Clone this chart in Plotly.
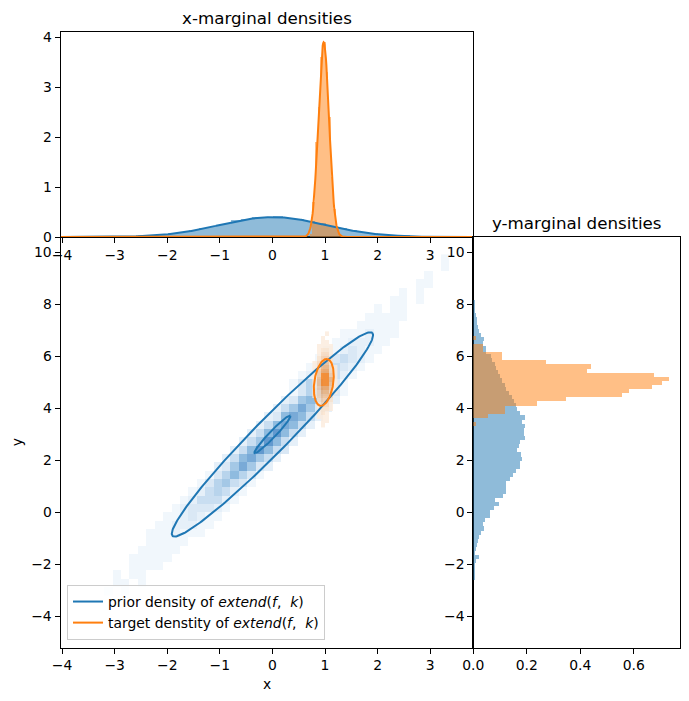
import numpy as np
import plotly.graph_objects as go

W, H = 689, 701

# ---------------- data ----------------
# x-marginal histogram of prior samples (density), bins of 0.2 starting at -4.0
prior_x_hist_start = -4.0
prior_x_hist_bin = 0.2
prior_x_hist = [0.0002, 0.0004, 0.0009, 0.0017, 0.0033, 0.006, 0.0104, 0.0175, 0.028, 0.045,
                0.066, 0.093, 0.13, 0.172, 0.215, 0.262, 0.325, 0.352, 0.39, 0.39,
                0.415, 0.383, 0.35, 0.31, 0.27, 0.22, 0.17, 0.13, 0.094, 0.066,
                0.044, 0.028, 0.018, 0.010, 0.006, 0.0033, 0.0017, 0.0009, 0.0004]

# x-marginal histogram of target samples, bins of 0.05 starting at 0.70
target_x_hist_start = 0.70
target_x_hist_bin = 0.05
target_x_hist = [0.05, 0.7, 1.9, 2.6, 3.6, 3.9, 3.3, 2.4, 1.2, 0.55, 0.15, 0.03]

# y-marginal histogram of prior samples, bins of 0.158 starting at -2.59
prior_y_hist_start = -2.59
prior_y_hist_bin = 0.158
prior_y_hist = [0.004, 0.005, 0.007, 0.009, 0.01, 0.021, 0.006, 0.01, 0.015, 0.019,
                0.022, 0.029, 0.04, 0.037, 0.043, 0.062, 0.062, 0.077, 0.096, 0.084,
                0.112, 0.124, 0.124, 0.124, 0.137, 0.149, 0.16, 0.174, 0.174, 0.184,
                0.18, 0.165, 0.171, 0.174, 0.195, 0.189, 0.189, 0.195, 0.184, 0.195,
                0.174, 0.165,
                0.16, 0.155, 0.145, 0.135, 0.125, 0.118, 0.11, 0.10, 0.095, 0.085,
                0.083, 0.07, 0.066, 0.05, 0.05, 0.037, 0.04, 0.03, 0.024, 0.02,
                0.016, 0.014, 0.012, 0.008, 0.005, 0.004]

# y-marginal histogram of target samples, bins of 0.158 starting at 3.32
target_y_hist_start = 3.32
target_y_hist_bin = 0.158
target_y_hist = [0.012, 0.0, 0.056, 0.118, 0.118, 0.24, 0.348, 0.559, 0.584, 0.668,
                 0.708, 0.733, 0.676, 0.426, 0.44, 0.274, 0.109, 0.109, 0.037, 0.037,
                 0.0, 0.01]

# normal densities drawn over the x-marginal (mean, sd)
prior_x_mean, prior_x_sd = 0.0, 1.0
target_x_mean, target_x_sd = 0.975, 0.1023

# ellipses: centre and two half-axis vectors (data units)
prior_center = (0.0, 3.0)
prior_outer_axes = ((1.9, 3.9), (0.23, -0.46))
prior_inner_axes = ((0.34, 0.72), (0.045, -0.085))
target_center = (0.977, 5.0)
target_axes = ((0.063, 0.9), (0.179, -0.05))

# 2-D histogram of prior samples: intensity levels 1..9 (0 = empty)
# grid: columns of 0.16 starting at x=-4.0 ; rows of 0.32 starting at y=-3.2
prior_grid_x0, prior_grid_dx, prior_grid_nx = -4.0, 0.16, 50
prior_grid_y0, prior_grid_dy = -3.2, 0.32
prior_row_start = [3, 4, 5, 6, 7, 8, 9, 10, 11, 12, 13, 14, 15, 16, 17, 18, 19, 20, 21, 22,
                   23, 24, 25, 26, 27, 27, 28, 29, 30, 31, 32, 33, 34, 35, 36, 37, 38, 39, 40, 41, 42]
prior_row_levels = ["0010100", "0011010", "0101100", "0011110", "0111110", "0111110", "0111110",
                    "1112111", "1122211", "1123211", "1233321", "1244421", "1245421", "1356431",
                    "1357531", "2368632", "2478642", "2479743", "2469742", "2479742", "2478742",
                    "2378742", "2468632", "2367632", "1357531", "1356531", "1245421", "1244321",
                    "1234321", "1123211", "1122211", "1112111", "0111110", "0111110", "0101100",
                    "0011010", "0010100", "0001100", "0001000", "0000100", "0001000"]

# 2-D histogram of target samples: columns of 0.08 from x=0.76, rows of 0.16 from y=3.28
target_grid_x0, target_grid_dx = 0.76, 0.08
target_grid_y0, target_grid_dy = 3.28, 0.16
target_row_levels = ["001000", "001100", "011100", "012100", "012210", "013310", "024420",
                     "135530", "136631", "147741", "159951", "159961", "149941", "147731",
                     "136631", "135520", "024420", "013310", "012210", "011110", "001100",
                     "001000", "000100"]

x_ticks = [-4, -3, -2, -1, 0, 1, 2, 3]
y_ticks = [-4, -2, 0, 2, 4, 6, 8, 10]
dens_x_ticks = [0, 1, 2, 3, 4]
dens_y_ticks = [0.0, 0.2, 0.4, 0.6]

x_range = [-4.03, 3.82]
y_range = [-5.2, 10.59]

C0 = "#1f77b4"
C1 = "#ff7f0e"
FONT = "DejaVu Sans"

# ---------------- figure ----------------
fig = go.Figure()


def grid_z(levels, starts, nx):
    z = []
    for s, row in zip(starts, levels):
        r = [None] * nx
        for k, ch in enumerate(row):
            v = int(ch)
            if v > 0 and 0 <= s + k < nx:
                r[s + k] = v
        z.append(r)
    return z


# prior 2-D histogram
pz = grid_z(prior_row_levels, prior_row_start, prior_grid_nx)
px = [prior_grid_x0 + prior_grid_dx * (i + 0.5) for i in range(prior_grid_nx)]
py = [prior_grid_y0 + prior_grid_dy * (j + 0.5) for j in range(len(prior_row_levels))]
fig.add_trace(go.Heatmap(x=px, y=py, z=pz, zmin=1, zmax=9, showscale=False, hoverongaps=False,
                         colorscale=[[0, "rgb(241,247,252)"], [0.25, "rgb(218,232,245)"],
                                     [0.5, "rgb(184,212,236)"], [0.75, "rgb(143,187,223)"],
                                     [1, "rgb(98,153,206)"]],
                         xaxis="x", yaxis="y"))

# target 2-D histogram
ncols_t = len(target_row_levels[0])
tz = grid_z(target_row_levels, [0] * len(target_row_levels), ncols_t)
tx = [target_grid_x0 + target_grid_dx * (i + 0.5) for i in range(ncols_t)]
ty = [target_grid_y0 + target_grid_dy * (j + 0.5) for j in range(len(target_row_levels))]
fig.add_trace(go.Heatmap(x=tx, y=ty, z=tz, zmin=1, zmax=9, showscale=False, hoverongaps=False,
                         opacity=0.8,
                         colorscale=[[0, "rgb(252,236,220)"], [0.35, "rgb(246,205,170)"],
                                     [0.7, "rgb(240,165,100)"], [1, "rgb(255,125,15)"]],
                         xaxis="x", yaxis="y"))


def ellipse(center, axes, n=240):
    t = np.linspace(0, 2 * np.pi, n)
    (a1, a2), (b1, b2) = axes
    return center[0] + a1 * np.cos(t) + b1 * np.sin(t), center[1] + a2 * np.cos(t) + b2 * np.sin(t)


ex, ey = ellipse(prior_center, prior_outer_axes)
fig.add_trace(go.Scatter(x=ex, y=ey, mode="lines", line=dict(color=C0, width=2),
                         name="prior density of <i>extend</i>(<i>f</i>,\u00a0 <i>k</i>)",
                         showlegend=True, xaxis="x", yaxis="y", hoverinfo="skip"))
ex, ey = ellipse(prior_center, prior_inner_axes)
fig.add_trace(go.Scatter(x=ex, y=ey, mode="lines", line=dict(color=C0, width=2),
                         showlegend=False, xaxis="x", yaxis="y", hoverinfo="skip"))
ex, ey = ellipse(target_center, target_axes)
fig.add_trace(go.Scatter(x=ex, y=ey, mode="lines", line=dict(color=C1, width=2),
                         name="target denstity of <i>extend</i>(<i>f</i>,\u00a0 <i>k</i>)",
                         showlegend=True, xaxis="x", yaxis="y", hoverinfo="skip"))


def centers(start, width, n):
    return [start + width * (i + 0.5) for i in range(n)]


# x-marginal histograms
fig.add_trace(go.Bar(x=centers(prior_x_hist_start, prior_x_hist_bin, len(prior_x_hist)), y=prior_x_hist,
                     width=prior_x_hist_bin, marker=dict(color=C0, opacity=0.5, line=dict(width=0)),
                     showlegend=False, xaxis="x2", yaxis="y2"))
fig.add_trace(go.Bar(x=centers(target_x_hist_start, target_x_hist_bin, len(target_x_hist)), y=target_x_hist,
                     width=target_x_hist_bin, marker=dict(color=C1, opacity=0.5, line=dict(width=0)),
                     showlegend=False, xaxis="x2", yaxis="y2"))

xs = np.linspace(x_range[0], x_range[1], 900)
pdf_p = np.exp(-0.5 * ((xs - prior_x_mean) / prior_x_sd) ** 2) / (prior_x_sd * np.sqrt(2 * np.pi))
pdf_t = np.exp(-0.5 * ((xs - target_x_mean) / target_x_sd) ** 2) / (target_x_sd * np.sqrt(2 * np.pi))
fig.add_trace(go.Scatter(x=xs, y=pdf_p, mode="lines", line=dict(color=C0, width=2),
                         showlegend=False, xaxis="x2", yaxis="y2", hoverinfo="skip", cliponaxis=False))
fig.add_trace(go.Scatter(x=xs, y=pdf_t, mode="lines", line=dict(color=C1, width=2),
                         showlegend=False, xaxis="x2", yaxis="y2", hoverinfo="skip", cliponaxis=False))

# y-marginal histograms
fig.add_trace(go.Bar(y=centers(prior_y_hist_start, prior_y_hist_bin, len(prior_y_hist)), x=prior_y_hist,
                     orientation="h", width=prior_y_hist_bin,
                     marker=dict(color=C0, opacity=0.5, line=dict(width=0)),
                     showlegend=False, xaxis="x3", yaxis="y3"))
fig.add_trace(go.Bar(y=centers(target_y_hist_start, target_y_hist_bin, len(target_y_hist)), x=target_y_hist,
                     orientation="h", width=target_y_hist_bin,
                     marker=dict(color=C1, opacity=0.5, line=dict(width=0)),
                     showlegend=False, xaxis="x3", yaxis="y3"))


# ---------------- layout ----------------
def px_x(p):
    return p / W


def px_y(p):
    return 1 - p / H


L, M, R = 60.5, 473.3, 680.0
T_TOP, T_MAIN, B_MAIN = 32.3, 237.0, 647.7

tick_font = dict(family=FONT, size=13.9, color="black")
axis_common = dict(showline=True, mirror=True, linecolor="black", linewidth=1, ticks="outside",
                   ticklen=5, tickwidth=1, tickcolor="black", showgrid=False, zeroline=False,
                   tickfont=tick_font, automargin=False)

fig.update_layout(
    template="none",
    width=W, height=H, autosize=False,
    margin=dict(l=0, r=0, t=0, b=0, pad=0),
    paper_bgcolor="white", plot_bgcolor="white",
    barmode="overlay", bargap=0,
    font=dict(family=FONT, size=13.9, color="black"),
    xaxis=dict(domain=[px_x(L), px_x(M)], range=x_range, tickvals=x_ticks, anchor="y", **axis_common),
    yaxis=dict(domain=[px_y(B_MAIN), px_y(T_MAIN)], range=y_range, tickvals=y_ticks, anchor="x", **axis_common),
    xaxis2=dict(domain=[px_x(L), px_x(M)], range=x_range, tickvals=x_ticks, anchor="y2", **axis_common),
    yaxis2=dict(domain=[px_y(T_MAIN), px_y(T_TOP)], range=[0, 4.1], tickvals=dens_x_ticks, anchor="x2",
                **axis_common),
    xaxis3=dict(domain=[px_x(M), px_x(R)], range=[0, 0.773], tickvals=dens_y_ticks, tickformat=".1f",
                anchor="y3", **axis_common),
    yaxis3=dict(domain=[px_y(B_MAIN), px_y(T_MAIN)], range=y_range, tickvals=y_ticks, anchor="x3",
                **axis_common),
    legend=dict(x=px_x(67), y=px_y(640), xanchor="left", yanchor="bottom",
                bgcolor="rgba(255,255,255,0.8)", bordercolor="#cccccc", borderwidth=1,
                font=dict(family=FONT, size=13.9, color="black"), tracegroupgap=0),
    annotations=[
        dict(text="x-marginal densities", x=px_x((L + M) / 2), y=px_y(18), xref="paper", yref="paper",
             showarrow=False, font=dict(family=FONT, size=16.7, color="black"), xanchor="center",
             yanchor="middle"),
        dict(text="y-marginal densities", x=px_x((M + R) / 2), y=px_y(223), xref="paper", yref="paper",
             showarrow=False, font=dict(family=FONT, size=16.7, color="black"), xanchor="center",
             yanchor="middle"),
        dict(text="x", x=px_x((L + M) / 2), y=px_y(684), xref="paper", yref="paper", showarrow=False,
             font=dict(family=FONT, size=13.9, color="black"), xanchor="center", yanchor="middle"),
        dict(text="y", x=px_x(17), y=px_y((T_MAIN + B_MAIN) / 2), xref="paper", yref="paper",
             showarrow=False, textangle=-90, font=dict(family=FONT, size=13.9, color="black"),
             xanchor="center", yanchor="middle"),
    ],
)

fig.write_html("out.html")
